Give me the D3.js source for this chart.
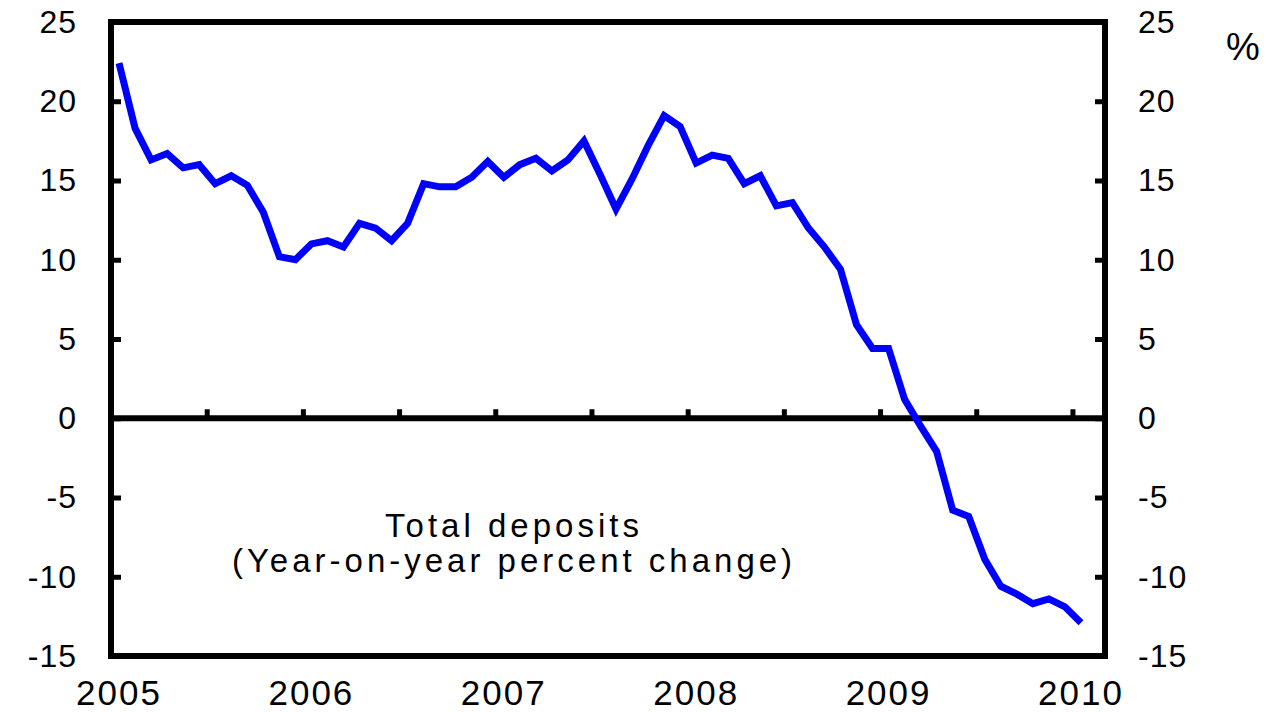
<!DOCTYPE html>
<html>
<head>
<meta charset="utf-8">
<script src="https://cdn.jsdelivr.net/npm/d3@7"></script>
<style>
  body { margin: 0; background: #fff; }
  svg { display: block; font-family: 'Liberation Sans', Arial, sans-serif; }
</style>
</head>
<body>
<svg id="canvas" width="1274" height="712"></svg>
<script>
const yearLabels = ['2005', '2006', '2007', '2008', '2009', '2010']
const yTicks = [-15, -10, -5, 0, 5, 10, 15, 20, 25]

// total deposits, year-on-year % change, monthly from Jan 2005
const deposits2005 = [22.4, 18.3, 16.3, 16.7, 15.8, 16.0, 14.8, 15.3, 14.7, 13.0, 10.2, 10.0]
const deposits2006 = [11.0, 11.2, 10.8, 12.3, 12.0, 11.2, 12.3, 14.8, 14.6, 14.6, 15.2, 16.2]
const deposits2007 = [15.2, 16.0, 16.4, 15.6, 16.3, 17.5, 15.4, 13.2, 15.1, 17.2, 19.1, 18.4]
const deposits2008 = [16.1, 16.6, 16.4, 14.8, 15.3, 13.4, 13.6, 12.0, 10.8, 9.4, 5.9, 4.4]
const deposits2009 = [4.4, 1.2, -0.5, -2.1, -5.8, -6.2, -8.9, -10.6, -11.1, -11.7, -11.4, -11.9]
const deposits2010 = [-12.9]

const deposits = [].concat(deposits2005, deposits2006, deposits2007, deposits2008, deposits2009, deposits2010)

let canvas = d3.select('#canvas')

let plotLeft = 111, plotRight = 1105, plotTop = 22, plotBottom = 656

// one band per month, Jan 2005 .. Feb 2010
let months = d3.timeMonth.range(new Date(2005, 0, 1), new Date(2010, 2, 1))

let x = d3.scaleBand().domain(months).range([plotLeft, plotRight]).padding(0)
let y = d3.scaleLinear().domain([-15, 25]).range([plotBottom, plotTop])

let styleAxis = (g, size) => {
    g.select('.domain').remove()
    g.selectAll('.tick line').attr('stroke', '#000').attr('stroke-width', 5)
    g.selectAll('.tick text')
     .attr('fill', '#000')
     .style('font-size', size + 'px')
     .style('letter-spacing', '1px')
}

// plain hyphen for negatives, like the original
let plainNumber = (d) => String(d)

// left axis
canvas.append('g')
      .attr('transform', 'translate(' + plotLeft + ',0)')
      .call(d3.axisLeft(y).tickValues(yTicks).tickSize(-10).tickPadding(34).tickFormat(plainNumber))
      .call(g => styleAxis(g, 32))

// right axis
canvas.append('g')
      .attr('transform', 'translate(' + plotRight + ',0)')
      .call(d3.axisRight(y).tickValues(yTicks).tickSize(-10).tickPadding(33).tickFormat(plainNumber))
      .call(g => styleAxis(g, 32))

// half-year ticks sitting on the zero line, at the start of each month band
let halfYears = months.filter((m, i) => i > 0 && i % 6 === 0)
canvas.append('g')
      .attr('transform', 'translate(' + (-x.bandwidth() / 2) + ',' + y(0) + ')')
      .call(d3.axisTop(x).tickValues(halfYears).tickSize(9).tickFormat(''))
      .call(g => styleAxis(g, 10))

// year labels under the frame, centred on January
let januaries = months.filter(m => m.getMonth() === 0)
canvas.append('g')
      .attr('transform', 'translate(0,' + plotBottom + ')')
      .call(d3.axisBottom(x).tickValues(januaries).tickSize(0).tickPadding(24)
              .tickFormat((m, i) => yearLabels[i]))
      .call(g => styleAxis(g, 35))
      .call(g => g.selectAll('.tick text').style('letter-spacing', '2px'))

// zero line
canvas.append('line')
      .attr('x1', plotLeft).attr('x2', plotRight)
      .attr('y1', y(0)).attr('y2', y(0))
      .attr('stroke', '#000')
      .attr('stroke-width', 6)

// frame
canvas.append('rect')
      .attr('x', plotLeft).attr('y', plotTop)
      .attr('width', plotRight - plotLeft).attr('height', plotBottom - plotTop)
      .attr('fill', 'none')
      .attr('stroke', '#000')
      .attr('stroke-width', 6)

let line = d3.line()
             .x((d, i) => x(months[i]) + x.bandwidth() / 2)
             .y(d => y(d))

canvas.append('path')
      .datum(deposits)
      .attr('d', line)
      .attr('fill', 'none')
      .attr('stroke', '#0000ff')
      .attr('stroke-width', 7)

// note inside the chart
let note = canvas.append('text')
                 .attr('text-anchor', 'middle')
                 .style('font-size', '33px')
                 .style('letter-spacing', '4px')
note.append('tspan').attr('x', 514).attr('y', 537).text('Total deposits')
note.append('tspan').attr('x', 514).attr('y', 572).text('(Year-on-year percent change)')

canvas.append('text')
      .attr('x', 1226).attr('y', 60)
      .style('font-size', '38px')
      .text('%')
</script>
</body>
</html>
